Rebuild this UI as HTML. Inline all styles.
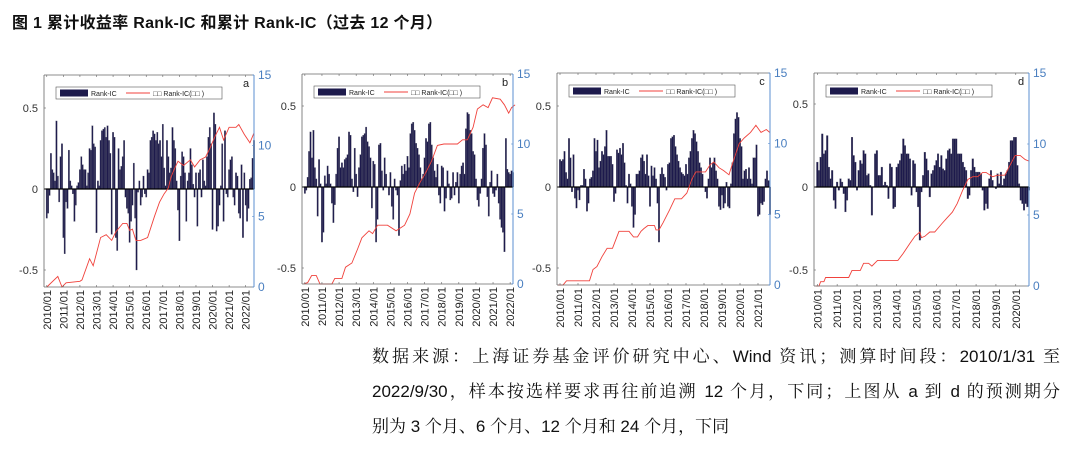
<!DOCTYPE html>
<html><head><meta charset="utf-8">
<style>
body{margin:0;background:#fff;width:1080px;height:463px;overflow:hidden;position:relative;font-family:"Liberation Sans","Noto Sans CJK SC",sans-serif}
#title{position:absolute;left:12px;top:9px;font-size:16px;font-weight:bold;color:#111;font-family:"Liberation Sans","Noto Sans CJK SC",sans-serif;letter-spacing:0.3px}
#caption{position:absolute;left:372px;top:339px;width:688px;font-size:17px;line-height:35px;color:#111;font-family:"Liberation Sans","Noto Serif CJK SC",serif}
#caption div{white-space:nowrap}
#caption .j{text-align:justify;text-align-last:justify}
svg{position:absolute;left:0;top:0}
</style></head><body>
<div id="title">图 1 累计收益率 Rank-IC 和累计 Rank-IC（过去 12 个月）</div>
<svg id="chart" width="1080" height="463"></svg>
<div id="caption">
<div class="j">数据来源：上海证券基金评价研究中心、Wind 资讯；测算时间段：2010/1/31 至</div>
<div class="j">2022/9/30，样本按选样要求再往前追溯 12 个月，下同；上图从 a 到 d 的预测期分</div>
<div>别为 3 个月、6 个月、12 个月和 24 个月，下同</div>
</div>
<script>
const icA=[-0.18,-0.15,-0.04,0.22,0.12,0.10,0.05,0.42,0.08,-0.08,0.2,0.28,
-0.30,-0.40,-0.08,-0.12,0.24,0.05,0.02,-0.03,-0.20,-0.10,0.02,0.04,
0.12,0.2,0.15,0.12,0.12,0.02,0.10,0.25,0.24,0.39,0.28,0.26,
-0.27,0.05,0.02,0.3,0.36,0.37,0.38,0.32,0.39,0.3,0.22,-0.28,
0.35,0.32,-0.3,-0.38,0.25,0.12,0.14,0.20,0.30,-0.05,-0.12,-0.15,
-0.33,-0.2,-0.10,0.16,-0.18,-0.50,-0.02,0.05,-0.10,-0.05,0.08,-0.03,
-0.05,0.12,0.10,0.30,0.32,0.36,0.34,0.30,0.35,0.28,0.30,0.20,
0.40,0.13,0.02,0.30,0.20,0.10,0.13,0.38,0.30,0.25,0.05,-0.13,
-0.32,0.08,0.23,0.20,0.10,-0.20,0.05,0.10,0.25,0.15,0.03,-0.05,
0.10,-0.23,0.10,0.12,-0.05,0.18,0.05,0.02,0.20,0.32,0.38,0.28,
-0.25,0.47,0.40,-0.26,-0.23,-0.10,0.02,0.28,-0.20,0.36,-0.03,-0.05,
0.12,0.18,0.20,-0.05,-0.10,0.10,0.08,-0.15,-0.18,0.15,-0.30,0.10,
-0.10,-0.20,-0.12,0.06,0.07,0.19,0.30];
const cumAm=[0,8,11,14,24,25.5,31,33.6,39,43,47,50,55,58,60,62,64.5,68,73,78,81.6,85,88,90,93,95,99,104,107,111,115,118,122,125,128,132,137,139,143,147,150];
const cumAv=[0,0.75,0,0.3,0.4,0.5,2.0,1.5,3.5,3.7,3.3,3.9,4.5,4.5,4.0,4.1,3.3,3.3,3.5,5.0,6.0,6.6,7.0,7.8,8.5,8.9,8.6,9.0,8.5,9.0,9.2,9.8,10.7,11.3,10.4,11.3,11.3,11.5,10.8,10.2,10.9];

const icB=[-0.04,-0.02,0.06,0.22,0.34,0.18,0.35,0.12,0.05,-0.18,0.17,0.02,
-0.34,-0.28,0.07,0.02,0.13,0.08,0.02,-0.10,-0.22,-0.11,0.08,0.24,
0.31,0.12,0.15,0.12,0.17,0.18,0.20,0.34,0.32,0.05,-0.03,0.24,
0.08,-0.06,0.12,0.2,0.31,0.32,0.33,0.37,0.28,0.25,0.18,-0.13,
0.16,0.14,-0.34,-0.20,0.26,0.27,0.10,-0.02,0.18,0.08,0.0,-0.05,
0.09,-0.12,-0.20,0.05,-0.02,-0.05,-0.30,0.04,0.13,0.08,0.14,0.10,
0.19,0.12,0.33,0.39,0.40,0.35,0.27,0.24,0.20,0.12,0.05,0.08,
0.18,0.30,0.28,0.39,0.40,0.26,0.18,0.10,0.06,0.14,-0.05,-0.10,
0.13,0.12,-0.15,-0.07,0.10,0.02,-0.08,-0.07,0.09,-0.05,0.03,0.09,
-0.10,0.08,0.13,0.15,0.08,0.36,0.46,0.45,0.35,0.33,0.22,0.20,
0.05,-0.08,-0.12,-0.04,0.05,0.24,0.33,0.26,-0.06,-0.18,0.03,0.10,
-0.04,-0.06,-0.02,0.08,-0.10,-0.20,-0.25,-0.28,-0.40,0.30,0.11,0.09,
0.08,0.10,0.09];
const cumBm=[-1,2,4.7,8,10.6,16.6,19,21,26,28.5,33,37,40,45,47.5,51,58,64,70,73.7,77,81,84,89,93,97.5,102,107,110.6,114,118,121,125,128.5,131.6,137,140,143,145,147.5];
const cumBv=[0,0.1,0.6,0.6,0,0,0,0.4,0.4,1.2,1.5,2.5,3.3,3.8,3.6,4.2,4.2,3.8,4.2,5.0,6.5,7.3,7.8,8.8,9.9,10.0,10.0,10.0,10.3,10.3,11.2,12.5,12.8,12.6,13.3,13.2,12.8,12.2,12.6,12.8];

const icC=[0.17,0.16,0.17,0.22,0.09,0.05,0.30,0.18,-0.03,0.20,-0.07,-0.13,
-0.02,-0.08,0.01,0.01,0.11,0.05,-0.15,-0.10,0.05,0.06,0.10,0.30,
0.22,0.29,0.12,0.16,0.22,0.20,0.25,0.35,0.19,0.19,0.19,0.14,
-0.09,-0.04,0.23,0.21,0.24,0.20,0.27,0.15,0.01,-0.10,0.08,0.02,
-0.12,-0.25,-0.17,0.08,0.08,0.10,0.18,0.20,0.16,0.08,0.20,0.07,
-0.12,0.13,0.07,0.12,0.05,-0.10,-0.34,0.08,0.12,0.08,0.06,-0.02,
0.14,0.15,0.30,0.31,0.32,0.25,0.20,0.16,0.12,0.09,0.08,0.07,
0.14,0.08,0.18,0.22,0.30,0.35,0.33,0.28,0.22,0.15,0.12,0.08,
0.00,-0.03,-0.07,0.05,0.18,0.12,0.15,0.18,0.10,0.05,-0.12,-0.14,
-0.05,-0.13,-0.10,0.03,-0.12,-0.13,0.02,0.15,0.33,0.42,0.46,0.43,
0.30,0.25,0.05,0.10,0.11,0.05,0.12,0.05,0.02,0.18,0.18,0.26,
-0.18,-0.17,-0.10,-0.11,-0.09,0.05,0.10,0.04,-0.17];
const cumCm=[-1.3,2,4.3,9,19.7,22,24.6,28,31.4,35,39.3,46,49,51.7,54,56,58.5,63,64,66,68.7,73,76.5,81,84.5,88,90.5,97,100,102.5,106,109,112.7,115,119.4,122.8,127,130.6,134,137.5,139.8];
const cumCv=[0,0,0.3,0.3,0.3,1.1,1.3,2.0,2.6,2.6,3.8,3.8,3.4,3.4,3.8,4.0,4.2,4.2,3.9,3.9,4.4,5.3,6.1,6.1,6.5,7.5,8.0,8.0,8.5,8.7,8.3,8.1,7.8,8.6,10.0,10.4,10.8,11.3,10.8,11.0,10.8];

const icD=[0.15,0.10,0.18,0.32,0.20,0.22,0.31,0.12,0.05,0.10,-0.08,-0.13,
0.03,-0.02,0.05,0.03,-0.04,-0.15,-0.08,0.05,0.04,0.30,0.19,0.15,
-0.02,0.10,0.16,0.14,0.22,0.20,0.07,0.08,0.01,-0.17,0.00,0.20,
0.22,0.07,0.07,0.12,0.01,0.03,0.01,-0.07,0.14,0.12,-0.13,-0.12,
0.12,0.14,0.16,0.20,0.29,0.25,0.20,0.20,0.17,-0.05,0.16,0.14,
-0.03,-0.12,-0.32,-0.03,0.07,0.21,0.17,0.10,-0.06,0.08,0.10,0.13,
0.16,0.20,0.12,0.19,0.11,0.10,0.17,0.22,0.23,0.20,0.29,0.29,
0.29,0.20,0.20,0.20,0.15,0.12,0.10,-0.07,-0.05,0.10,0.17,0.12,
0.09,0.09,0.09,0.08,-0.02,-0.14,-0.10,-0.13,0.05,0.10,0.04,0.00,
-0.01,0.08,0.02,0.09,0.01,0.05,0.08,0.10,0.15,0.28,0.28,0.30,
0.30,0.13,0.02,-0.08,-0.10,-0.14,-0.10,-0.12,-0.02];
const cumDm=[-1,1,2,4,5,19,21,26,28,31,33,36.4,48.7,52,56,59,62,63,65,68,71,75.4,78.5,81.6,84.6,87.7,91,94,97,100,102,106,109,113.4,116.5,119.6,122.6,125.7,127.8];
const cumDv=[0,0,0.3,0.3,0.6,0.6,1.1,1.1,1.6,1.6,1.4,1.8,1.8,2.3,3.0,3.5,3.8,3.4,3.5,3.8,3.8,4.4,4.8,5.2,5.8,6.7,7.5,7.7,7.7,8.0,8.0,7.7,7.8,7.8,8.5,9.2,9.2,8.9,8.8];

const leftTicks=[0.5,0,-0.5];
const leftLabels=['0.5','0','-0.5'];
const rightTicks=[0,5,10,15];

const panels=[
 {id:'a',ic:icA,cm:cumAm,cv:cumAv,L:44,R:254,T:75,B:287,y0:189,yh:108},
 {id:'b',ic:icB,cm:cumBm,cv:cumBv,L:302,R:513,T:74,B:284,y0:187,yh:106},
 {id:'c',ic:icC,cm:cumCm,cv:cumCv,L:557,R:770,T:73,B:285,y0:187,yh:106},
 {id:'d',ic:icD,cm:cumDm,cv:cumDv,L:814,R:1029,T:73,B:286,y0:187,yh:104}
];
const svg=document.getElementById('chart');
const NS='http://www.w3.org/2000/svg';
function mk(tag,attrs,parent){const e=document.createElementNS(NS,tag);for(const k in attrs)e.setAttribute(k,attrs[k]);(parent||svg).appendChild(e);return e;}

panels.forEach(p=>{
 const g=mk('g',{});
 
 
 const n=p.ic.length;
 const x=m=>p.L+(m+2)/(n+1)*(p.R-p.L);
 const step=(p.R-p.L)/(n+1);
 const y=v=>p.y0-(v/0.5)*(p.y0-p.yh);
 const yr=v=>p.B-v/15*(p.B-p.T);
 p.ic.forEach((v,i)=>{
  const cx=x(i);const y1=y(Math.max(v,0)),y2=y(Math.min(v,0));
  const r=mk('rect',{x:cx-step*0.5,y:y1,width:step,height:Math.max(y2-y1,0.3),fill:'#1d1a4c',stroke:'#55556a','stroke-width':0.3},g);
  
  
 });
 const z=mk('line',{x1:p.L,x2:p.R,y1:p.y0,y2:p.y0,stroke:'#000','stroke-width':1.2},g);
 
 
 const pts=p.cm.map((m,i)=>x(m).toFixed(1)+','+yr(p.cv[i]).toFixed(1)).join(' ');
 const pl=mk('polyline',{points:pts,fill:'none',stroke:'#f0423c','stroke-width':0.9},g);
 
 
 mk('line',{x1:p.L,x2:p.R,y1:p.T,y2:p.T,stroke:'#666','stroke-width':0.8},g);
 mk('line',{x1:p.L,x2:p.R,y1:p.B,y2:p.B,stroke:'#666','stroke-width':0.8},g);
 const la=mk('line',{x1:p.L,x2:p.L,y1:p.T,y2:p.B,stroke:'#666','stroke-width':0.8},g);
 
 
 const ra=mk('line',{x1:p.R,x2:p.R,y1:p.T,y2:p.B,stroke:'#5b8fd0','stroke-width':1},g);
 
 
 leftTicks.forEach((v,i)=>{
  mk('line',{x1:p.L,x2:p.L+2,y1:y(v),y2:y(v),stroke:'#666','stroke-width':0.6},g);
  const t=mk('text',{x:p.L-6,y:y(v)+4,'text-anchor':'end','font-size':11,fill:'#333'},g);
  t.textContent=leftLabels[i];
  
  
 });
 rightTicks.forEach(v=>{
  mk('line',{x1:p.R-2,x2:p.R,y1:yr(v),y2:yr(v),stroke:'#5b8fd0','stroke-width':0.6},g);
  const t=mk('text',{x:p.R+4,y:yr(v)+4,'font-size':12,fill:'#4a7fc0'},g);
  t.textContent=String(v);
  
  
 });
 for(let k=0;k*12<n;k++){
  const xx=x(k*12);
  mk('line',{x1:xx,x2:xx,y1:p.B,y2:p.B-2,stroke:'#666','stroke-width':0.6},g);
  mk('line',{x1:xx,x2:xx,y1:p.T,y2:p.T+2,stroke:'#666','stroke-width':0.6},g);
  const t=mk('text',{x:0,y:0,'font-size':11,fill:'#222','text-anchor':'end',transform:`translate(${xx+4},${p.B+3}) rotate(-90)`},g);
  t.textContent=(2010+k)+'/01';
  
  
 }
 const lg=mk('g',{},g);
 
 
 const lx=p.L+12,ly=p.T+12;
 mk('rect',{x:lx,y:ly,width:166,height:12,fill:'#fff',stroke:'#555','stroke-width':0.6},lg);
 mk('rect',{x:lx+4,y:ly+2.5,width:28,height:7,fill:'#1d1a4c'},lg);
 const t1=mk('text',{x:lx+35,y:ly+9,'font-size':7,fill:'#222'},lg);t1.textContent='Rank-IC';
 mk('line',{x1:lx+70,x2:lx+94,y1:ly+6,y2:ly+6,stroke:'#f0423c','stroke-width':0.9},lg);
 const t2=mk('text',{x:lx+97,y:ly+9,'font-size':7,fill:'#222'},lg);t2.textContent='□□   Rank-IC(□□    )';
 const pt=mk('text',{x:p.R-8,y:p.T+12,'font-size':11,fill:'#222','text-anchor':'middle'},g);
 pt.textContent=p.id;
 
 
});
</script>
</body></html>
